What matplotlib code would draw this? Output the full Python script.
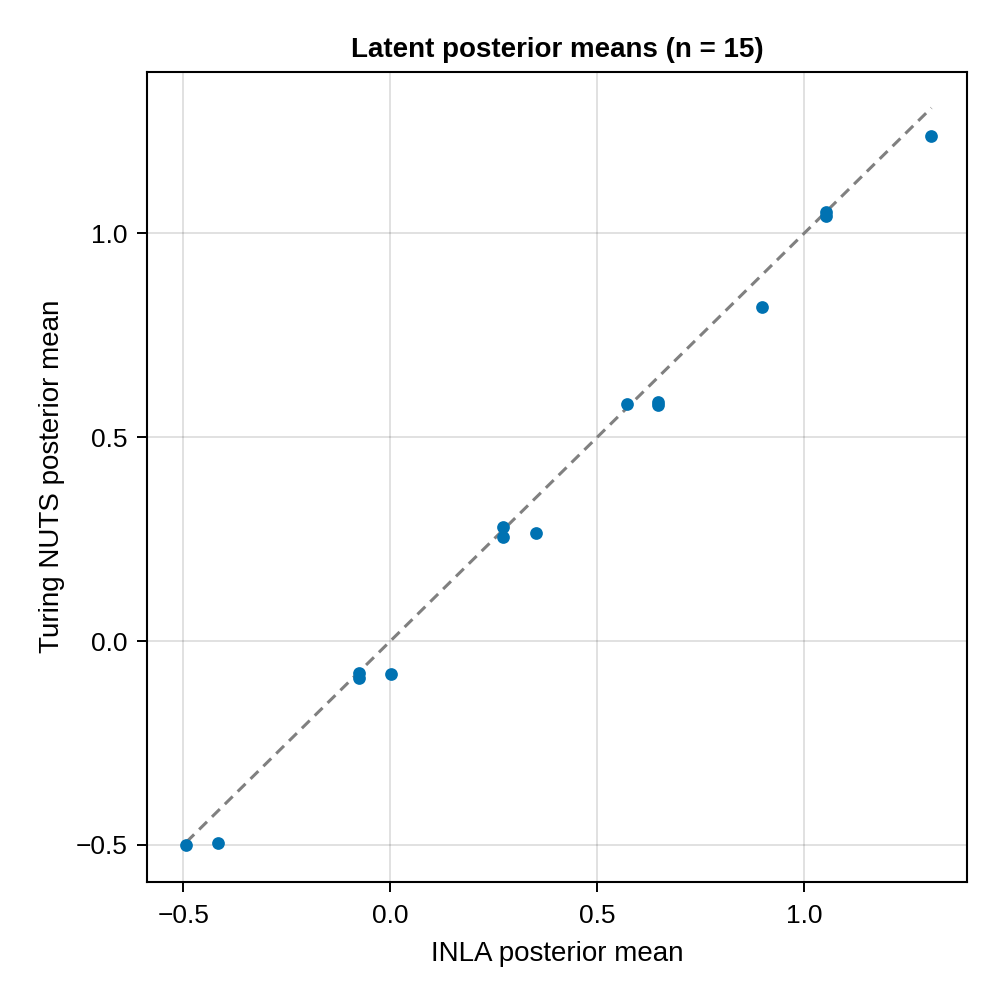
import matplotlib
matplotlib.use("Agg")
import matplotlib.pyplot as plt

# posterior means
inla_mean = [-0.493, -0.417, -0.077, -0.077, 0.001, 0.273, 0.273, 0.352,
             0.572, 0.647, 0.647, 0.897, 1.052, 1.052, 1.307]
nuts_mean = [-0.500, -0.494, -0.079, -0.090, -0.080, 0.279, 0.254, 0.265,
             0.581, 0.587, 0.578, 0.818, 1.052, 1.042, 1.238]

x_ticks = [-0.5, 0.0, 0.5, 1.0]
y_ticks = [-0.5, 0.0, 0.5, 1.0]
tick_labels = ["\u22120.5", "0.0", "0.5", "1.0"]

plt.rcParams['font.family'] = ['Liberation Sans', 'DejaVu Sans']

fig = plt.figure(figsize=(10, 10), dpi=100)
ax = fig.add_axes([0.1474, 0.1183, 0.8196, 0.8101])

# identity line over the range of the x data
lo, hi = min(inla_mean), max(inla_mean)
ax.plot([lo, hi], [lo, hi], color="#808080", linewidth=2.2,
        dashes=(3.6, 2.3), zorder=2)
ax.scatter(inla_mean, nuts_mean, s=84, color="#0072B2", linewidths=0, zorder=3)

ax.set_xlim(-0.587, 1.393)
ax.set_ylim(-0.590, 1.396)
ax.set_xticks(x_ticks)
ax.set_yticks(y_ticks)
ax.set_xticklabels(tick_labels)
ax.set_yticklabels(tick_labels)

ax.grid(True, color="black", alpha=0.12, linewidth=1.4)
ax.set_axisbelow(True)
for sp in ax.spines.values():
    sp.set_linewidth(1.5)
ax.tick_params(direction="out", length=7.2, width=1.4, labelsize=19)
ax.tick_params(axis="x", pad=9)
ax.tick_params(axis="y", pad=7)

ax.set_xlabel("INLA posterior mean", fontsize=20, labelpad=9)
ax.set_ylabel("Turing NUTS posterior mean", fontsize=20, labelpad=8)
ax.set_title("Latent posterior means (n = 15)", fontsize=20, fontweight="bold", pad=10.5)

fig.savefig("out.png", dpi=100)
